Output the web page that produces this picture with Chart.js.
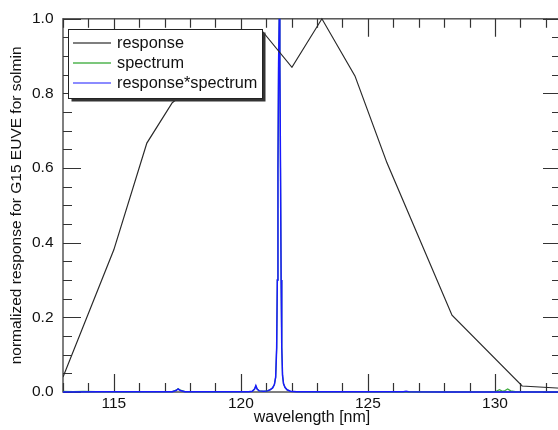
<!DOCTYPE html>
<html>
<head>
<meta charset="utf-8">
<script src="https://cdn.jsdelivr.net/npm/chart.js@4.4.1/dist/chart.umd.min.js"></script>
<style>
  html, body { margin: 0; padding: 0; background: #fff; overflow: hidden; }
  #wrap { width: 558px; height: 430px; overflow: hidden; position: relative; }
  #c { position: absolute; left: 0; top: 0; }
</style>
</head>
<body>
<div id="wrap"><canvas id="c" width="562" height="430"></canvas></div>
<script>
// GOES-15 EUVE channel response (normalized) vs wavelength
const responseWave  = [113.0, 115.0, 116.3, 117.3, 120.83, 122.01, 123.19, 124.49, 125.75, 128.31, 131.07, 132.6];
const responseValue = [0.040, 0.381, 0.667, 0.775, 0.968,  0.870,  1.000,  0.847,  0.614,  0.206,  0.016,  0.010];

// solar-minimum spectrum (normalized)
const spectrumWave  = [113.0, 113.4, 113.8, 114.3, 115.5, 117.3, 117.45, 117.53, 117.62, 117.8, 119.0, 120.3, 120.45, 120.54, 120.59, 120.64, 120.72, 120.9, 121.05, 121.15, 121.25, 121.32, 121.37, 121.41, 121.435, 121.46, 121.485, 121.51, 121.535, 121.56, 121.585, 121.61, 121.64, 121.68, 121.74, 121.82, 121.95, 122.2, 123.0, 124.0, 126.0, 128.0, 129.8, 130.05, 130.18, 130.3, 130.4, 130.5, 130.62, 130.8, 131.5, 132.6];
const spectrumValue = [0.002, 0.001, 0.0015, 0.001, 0.0005, 0.001, 0.005, 0.009, 0.005, 0.001, 0.0005, 0.001, 0.002, 0.008, 0.016, 0.008, 0.003, 0.002, 0.003, 0.006, 0.011, 0.02, 0.04, 0.12, 0.3, 0.6, 0.88, 1.0, 0.88, 0.6, 0.3, 0.12, 0.045, 0.022, 0.012, 0.006, 0.002, 0.001, 0.0005, 0.001, 0.0005, 0.0005, 0.0008, 0.002, 0.006, 0.002, 0.004, 0.008, 0.003, 0.0008, 0.0005, 0.0005];

// response * spectrum (normalized)
const productWave  = [113.0, 114.5, 116.0, 117.3, 117.45, 117.53, 117.62, 117.8, 119.0, 120.3, 120.45, 120.54, 120.59, 120.64, 120.72, 120.9, 121.05, 121.15, 121.25, 121.32, 121.37, 121.41, 121.435, 121.46, 121.485, 121.51, 121.535, 121.56, 121.585, 121.61, 121.64, 121.68, 121.74, 121.82, 121.95, 122.2, 123.0, 124.0, 124.3, 126.4, 126.5, 126.6, 128.0, 130.0, 132.6];
const productValue = [0.0, 0.0005, 0.0005, 0.001, 0.004, 0.008, 0.004, 0.001, 0.0005, 0.001, 0.002, 0.008, 0.017, 0.008, 0.003, 0.002, 0.003, 0.006, 0.011, 0.02, 0.04, 0.12, 0.3, 0.6, 0.88, 1.0, 0.88, 0.6, 0.3, 0.12, 0.045, 0.022, 0.012, 0.006, 0.002, 0.001, 0.0005, 0.001, 0.0005, 0.0005, 0.002, 0.0005, 0.0003, 0.0003, 0.0002];

// axis ticks
const xMajorTicks = [115, 120, 125, 130];
const xMinorTicks = [113, 114, 116, 117, 118, 119, 121, 122, 123, 124, 126, 127, 128, 129, 131, 132];
const yMajorTicks = [0.0, 0.2, 0.4, 0.6, 0.8, 1.0];
const yMinorTicks = [0.05, 0.10, 0.15, 0.25, 0.30, 0.35, 0.45, 0.50, 0.55, 0.65, 0.70, 0.75, 0.85, 0.90, 0.95];

const toPoints = (xs, ys) => xs.map((x, i) => ({ x: x, y: ys[i] }));

const FONT = '"Liberation Sans", Arial, Helvetica, sans-serif';
Chart.defaults.font.family = FONT;
Chart.defaults.color = '#111';

// box frame plus inward ticks on all four sides
const frameTicks = {
  id: 'frameTicks',
  beforeDatasetsDraw(chart) {
    const { ctx, chartArea: a, scales: { x, y } } = chart;
    ctx.save();
    ctx.strokeStyle = '#555';
    ctx.lineWidth = 1.5;
    ctx.strokeRect(a.left, a.top, a.right - a.left, a.bottom - a.top);
    ctx.strokeStyle = '#333';
    ctx.lineWidth = 1.2;
    ctx.beginPath();
    const xt = (v, len) => {
      const px = Math.round(x.getPixelForValue(v)) + 0.5;
      ctx.moveTo(px, a.bottom); ctx.lineTo(px, a.bottom - len);
      ctx.moveTo(px, a.top);    ctx.lineTo(px, a.top + len);
    };
    const yt = (v, len) => {
      const py = Math.round(y.getPixelForValue(v)) + 0.5;
      ctx.moveTo(a.left, py);  ctx.lineTo(a.left + len, py);
      ctx.moveTo(a.right, py); ctx.lineTo(a.right - len, py);
    };
    xMajorTicks.forEach(v => xt(v, 18));
    xMinorTicks.forEach(v => xt(v, 9));
    yMajorTicks.forEach(v => yt(v, 18));
    yMinorTicks.forEach(v => yt(v, 9));
    ctx.stroke();
    ctx.restore();
  }
};

// boxed legend with drop shadow inside the plot
const boxLegend = {
  id: 'boxLegend',
  afterDraw(chart) {
    const ctx = chart.ctx;
    const L = 68.5, T = 29.5, W = 194, H = 69;
    ctx.save();
    ctx.fillStyle = '#333';
    ctx.fillRect(L + 3, T + 3, W, H);
    ctx.fillStyle = '#fff';
    ctx.fillRect(L, T, W, H);
    ctx.strokeStyle = '#222';
    ctx.lineWidth = 1;
    ctx.strokeRect(L, T, W, H);
    ctx.font = '16.3px ' + FONT;
    ctx.textBaseline = 'middle';
    chart.data.datasets.forEach((ds, i) => {
      const yy = 43 + 20 * i;
      ctx.strokeStyle = ds.legendColor;
      ctx.lineWidth = 1.5;
      ctx.beginPath();
      ctx.moveTo(73, yy); ctx.lineTo(111, yy);
      ctx.stroke();
      ctx.fillStyle = '#111';
      ctx.fillText(ds.label, 117, yy + 1);
    });
    ctx.restore();
  }
};

new Chart(document.getElementById('c'), {
  type: 'line',
  data: {
    datasets: [
      { label: 'response', data: toPoints(responseWave, responseValue),
        borderColor: '#2a2a2a', legendColor: '#555', borderWidth: 1.2, order: 0 },
      { label: 'spectrum', data: toPoints(spectrumWave, spectrumValue),
        borderColor: 'rgb(60,170,60)', legendColor: 'rgb(80,180,80)', borderWidth: 1.2, order: 2 },
      { label: 'response*spectrum', data: toPoints(productWave, productValue),
        borderColor: 'rgb(25,25,255)', legendColor: 'rgb(100,100,255)', borderWidth: 1.5, order: 1 }
    ]
  },
  options: {
    responsive: false,
    animation: false,
    layout: { padding: { top: 13.5, right: 1, left: 0, bottom: 0 } },
    elements: { point: { radius: 0 }, line: { tension: 0, fill: false } },
    plugins: { legend: { display: false }, tooltip: { enabled: false } },
    datasets: { line: { clip: { left: 0, top: 2, right: 0, bottom: 3 } } },
    scales: {
      x: {
        type: 'linear', position: 'bottom', min: 113, max: 132.6,
        grid: { display: false, drawTicks: false, tickLength: 0 },
        border: { display: false },
        afterBuildTicks: s => { s.ticks = xMajorTicks.map(v => ({ value: v })); },
        afterFit: s => { s.height = 38; },
        ticks: { font: { size: 15.5 }, color: '#111', padding: 2, maxRotation: 0, autoSkip: false,
                 callback: v => String(v) },
        title: { display: true, text: 'wavelength [nm]', font: { size: 16 }, color: '#111',
                 padding: { top: 0, bottom: 3 } }
      },
      y: {
        type: 'linear', min: 0, max: 1,
        grid: { display: false, drawTicks: false, tickLength: 0 },
        border: { display: false },
        afterBuildTicks: s => { s.ticks = yMajorTicks.map(v => ({ value: v })); },
        afterFit: s => { s.width = 63; },
        ticks: { font: { size: 15.5 }, color: '#111', padding: 9.5,
                 callback: v => Number(v).toFixed(1) },
        title: { display: true, text: 'normalized response for G15 EUVE for solmin',
                 font: { size: 15.5 }, color: '#111', padding: { top: 7, bottom: 0 } }
      }
    }
  },
  plugins: [frameTicks, boxLegend]
});
</script>
</body>
</html>
